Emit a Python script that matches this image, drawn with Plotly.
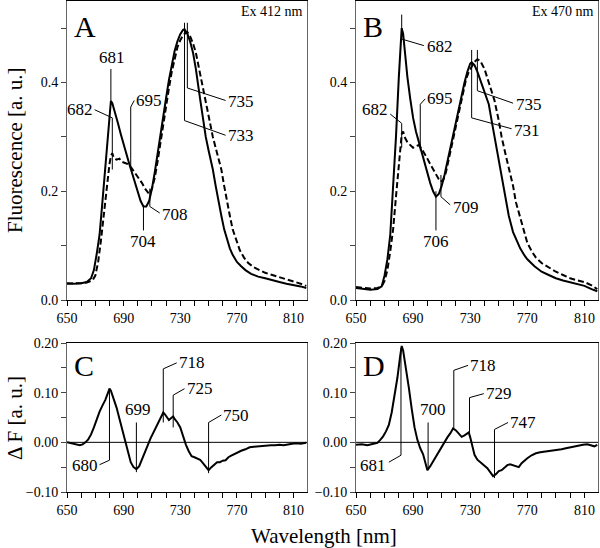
import plotly.graph_objects as go

# --- data -------------------------------------------------------------------
# Panel A, Ex 412 nm
wl_a_solid = [650, 655, 660, 664, 667, 669, 671, 673, 675, 677, 679, 680, 681, 682, 684, 686,
              688, 690, 692, 694, 696, 698, 700, 702, 704, 706, 708, 710, 712, 714, 716, 718,
              720, 722, 724, 726, 728, 730, 732, 733, 735, 737, 739, 741, 744, 746, 748, 750,
              753, 755, 757, 759, 761, 763, 765, 767, 770, 773, 776, 780, 785, 790, 795, 800,
              805, 810, 815, 819]
f_a_solid = [0.031, 0.030, 0.031, 0.033, 0.040, 0.055, 0.085, 0.12, 0.18, 0.245, 0.31, 0.345,
             0.366, 0.362, 0.345, 0.325, 0.305, 0.285, 0.268, 0.25, 0.233, 0.215, 0.198, 0.182,
             0.172, 0.172, 0.182, 0.205, 0.235, 0.27, 0.31, 0.345, 0.372, 0.405, 0.435, 0.458,
             0.476, 0.489, 0.497, 0.498, 0.49, 0.475, 0.455, 0.425, 0.37, 0.335, 0.30, 0.275,
             0.24, 0.21, 0.18, 0.155, 0.13, 0.11, 0.095, 0.083, 0.07, 0.062, 0.055, 0.048,
             0.043, 0.040, 0.036, 0.033, 0.030, 0.028, 0.025, 0.022]

wl_a_dash = [650, 655, 660, 664, 668, 670, 672, 674, 676, 678, 680, 681, 682, 683, 685, 687,
             689, 691, 693, 695, 697, 699, 701, 703, 705, 707, 708, 710, 712, 714, 716, 718,
             720, 722, 724, 726, 728, 730, 732, 734, 735, 737, 739, 741, 743, 745, 748, 750,
             753, 756, 759, 761, 763, 765, 767, 770, 772, 775, 778, 782, 786, 790, 795, 800,
             805, 810, 815, 819]
f_a_dash = [0.030, 0.030, 0.031, 0.032, 0.036, 0.045, 0.07, 0.11, 0.16, 0.21, 0.25, 0.265,
            0.27, 0.262, 0.258, 0.26, 0.254, 0.252, 0.25, 0.245, 0.238, 0.23, 0.222, 0.215,
            0.205, 0.198, 0.195, 0.205, 0.225, 0.255, 0.29, 0.325, 0.36, 0.39, 0.42, 0.445,
            0.465, 0.478, 0.487, 0.492, 0.493, 0.485, 0.472, 0.455, 0.43, 0.40, 0.365, 0.34,
            0.30, 0.27, 0.24, 0.21, 0.18, 0.155, 0.13, 0.105, 0.092, 0.078, 0.068, 0.060,
            0.055, 0.050, 0.046, 0.042, 0.038, 0.035, 0.030, 0.026]

# Panel B, Ex 470 nm
wl_b_solid = [650, 655, 660, 665, 668, 670, 672, 674, 676, 678, 680, 681, 682, 683, 684, 686,
              688, 690, 692, 694, 696, 698, 700, 702, 704, 706, 708, 710, 712, 714, 716, 718,
              720, 722, 724, 726, 728, 730, 731, 733, 735, 737, 740, 743, 745, 747, 749, 751,
              753, 755, 757, 760, 763, 765, 768, 770, 775, 780, 785, 790, 795, 800, 805, 810,
              815, 819]
f_b_solid = [0.022, 0.020, 0.019, 0.020, 0.025, 0.045, 0.075, 0.12, 0.20, 0.30, 0.41, 0.46,
             0.50, 0.49, 0.46, 0.41, 0.37, 0.335, 0.31, 0.29, 0.27, 0.25, 0.23, 0.215, 0.20,
             0.19, 0.195, 0.21, 0.23, 0.255, 0.28, 0.305, 0.33, 0.355, 0.38, 0.40, 0.42, 0.435,
             0.437, 0.432, 0.42, 0.405, 0.385, 0.36, 0.33, 0.30, 0.27, 0.244, 0.21, 0.18, 0.155,
             0.125, 0.105, 0.095, 0.082, 0.075, 0.062, 0.052, 0.046, 0.040, 0.036, 0.033, 0.030,
             0.026, 0.020, 0.016]

wl_b_dash = [650, 655, 660, 665, 668, 670, 672, 674, 676, 678, 680, 681, 682, 683, 684, 686,
             688, 690, 692, 694, 696, 698, 700, 702, 704, 706, 708, 709, 711, 713, 715, 717,
             719, 721, 723, 725, 727, 729, 731, 733, 735, 737, 740, 743, 745, 747, 750, 752,
             755, 757, 760, 762, 765, 768, 770, 773, 776, 780, 785, 790, 795, 800, 805, 810,
             815, 819]
f_b_dash = [0.024, 0.022, 0.021, 0.022, 0.025, 0.035, 0.055, 0.09, 0.13, 0.19, 0.25, 0.28,
            0.305, 0.31, 0.30, 0.29, 0.285, 0.28, 0.283, 0.285, 0.278, 0.27, 0.26, 0.25, 0.24,
            0.23, 0.222, 0.218, 0.22, 0.235, 0.26, 0.285, 0.31, 0.335, 0.36, 0.385, 0.405,
            0.42, 0.43, 0.438, 0.443, 0.44, 0.425, 0.40, 0.385, 0.367, 0.33, 0.30, 0.265,
            0.244, 0.21, 0.18, 0.15, 0.123, 0.105, 0.09, 0.078, 0.068, 0.060, 0.052, 0.046,
            0.040, 0.036, 0.033, 0.027, 0.020]

# Panel C, difference spectrum (Ex 412)
wl_c = [650, 653, 656, 659, 661, 663, 665, 667, 669, 671, 673, 675, 677, 679, 680, 681, 683,
        685, 687, 689, 691, 693, 695, 697, 699, 701, 703, 705, 707, 709, 711, 713, 715, 717,
        718, 719, 721, 722, 724, 725, 726, 728, 730, 732, 734, 736, 738, 740, 742, 744, 746,
        748, 750, 752, 754, 756, 758, 760, 762, 764, 766, 768, 770, 773, 776, 779, 782, 785,
        788, 791, 794, 797, 800, 803, 806, 809, 812, 815, 819]
df_c = [0.0, -0.002, -0.005, -0.006, -0.004, 0.0, 0.006, 0.016, 0.03, 0.048, 0.062, 0.074,
        0.085, 0.10, 0.108, 0.104, 0.088, 0.07, 0.048, 0.025, 0.003, -0.02, -0.04, -0.05,
        -0.054, -0.048, -0.035, -0.02, -0.006, 0.008, 0.02, 0.032, 0.042, 0.055, 0.06, 0.057,
        0.048, 0.045, 0.05, 0.052, 0.047, 0.04, 0.03, 0.01, -0.005, -0.018, -0.028, -0.03,
        -0.032, -0.035, -0.042, -0.05, -0.056, -0.05, -0.045, -0.04, -0.04, -0.037, -0.036,
        -0.03, -0.027, -0.024, -0.02, -0.017, -0.014, -0.01, -0.009, -0.008, -0.008, -0.007,
        -0.006, -0.006, -0.005, -0.006, -0.004, -0.003, -0.002, -0.003, -0.001]

# Panel D, difference spectrum (Ex 470)
wl_d = [650, 654, 658, 662, 665, 667, 669, 671, 673, 675, 677, 679, 681, 682, 683, 685, 687,
        689, 691, 693, 695, 697, 699, 700, 702, 704, 706, 708, 710, 712, 714, 716, 718, 720,
        722, 724, 726, 728, 729, 730, 731, 733, 735, 738, 740, 742, 744, 746, 748, 750, 752,
        754, 756, 758, 760, 762, 764, 766, 768, 770, 773, 776, 779, 782, 785, 788, 791, 794,
        797, 800, 803, 806, 809, 812, 815, 817, 819]
df_d = [-0.005, -0.004, -0.006, -0.004, -0.001, 0.005, 0.012, 0.022, 0.035, 0.06, 0.092,
        0.13, 0.175, 0.194, 0.185, 0.15, 0.11, 0.068, 0.03, 0.005, -0.012, -0.024, -0.045,
        -0.056, -0.048, -0.038, -0.028, -0.018, -0.008, 0.0, 0.01, 0.018, 0.028, 0.024,
        0.017, 0.011, 0.014, 0.018, 0.02, 0.01, -0.003, -0.025, -0.035, -0.042, -0.046,
        -0.052, -0.06, -0.068, -0.064, -0.058, -0.056, -0.05, -0.046, -0.044, -0.046,
        -0.048, -0.05, -0.042, -0.036, -0.032, -0.026, -0.022, -0.02, -0.019, -0.018,
        -0.017, -0.016, -0.014, -0.012, -0.01, -0.009, -0.007, -0.005, -0.004, -0.007,
        -0.008, -0.005]

# peak callouts: label, label pos, anchor, leader path (data coords)
callouts_a = [
    ("681", 681.5, 0.425, "center", "bottom", [(681, 0.425), (681, 0.362)]),
    ("682", 669.5, 0.35, "right", "middle", [(669.5, 0.35), (682, 0.335), (682, 0.24)]),
    ("695", 697.5, 0.367, "left", "middle", [(697.5, 0.367), (695, 0.355), (695, 0.245)]),
    ("704", 704, 0.128, "center", "top", [(704, 0.172), (704, 0.128)]),
    ("708", 715.5, 0.158, "left", "middle", [(715.5, 0.16), (708.5, 0.172), (708.5, 0.205)]),
    ("735", 762.5, 0.365, "left", "middle", [(762, 0.367), (735, 0.39), (735, 0.51)]),
    ("733", 762.5, 0.302, "left", "middle", [(762, 0.303), (733, 0.33), (733, 0.51)]),
]
callouts_b = [
    ("682", 698, 0.466, "left", "middle", [(682, 0.525), (682, 0.48), (697.5, 0.468)]),
    ("682", 673.5, 0.35, "right", "middle", [(674, 0.342), (682, 0.325), (682, 0.28)]),
    ("695", 698.5, 0.37, "left", "middle", [(698.5, 0.37), (695, 0.36), (695, 0.275)]),
    ("706", 706, 0.128, "center", "top", [(706, 0.2), (706, 0.128)]),
    ("709", 716.5, 0.17, "left", "middle", [(716, 0.175), (709.5, 0.19), (709.5, 0.23)]),
    ("735", 760.5, 0.36, "left", "middle", [(760, 0.362), (735, 0.385), (735, 0.46)]),
    ("731", 759.5, 0.312, "left", "middle", [(759, 0.315), (731, 0.335), (731, 0.46)]),
]
callouts_c = [
    ("680", 673, -0.046, "right", "middle", [(673, -0.045), (680, -0.036), (680, 0.105)]),
    ("699", 700, 0.043, "center", "bottom", [(699, 0.04), (699, -0.06)]),
    ("718", 727.5, 0.16, "left", "middle", [(727.5, 0.16), (718, 0.148), (718, 0.04)]),
    ("725", 733, 0.108, "left", "middle", [(733, 0.108), (725, 0.095), (725, 0.03)]),
    ("750", 759, 0.054, "left", "middle", [(759, 0.055), (750, 0.04), (750, -0.062)]),
]
callouts_d = [
    ("681", 672.5, -0.046, "right", "middle", [(673, -0.04), (681.5, -0.026), (681.5, 0.19)]),
    ("700", 704, 0.043, "center", "bottom", [(700.5, 0.04), (700.5, -0.056)]),
    ("718", 728.5, 0.155, "left", "middle", [(728.5, 0.155), (718.5, 0.145), (718.5, 0.028)]),
    ("729", 739.5, 0.098, "left", "middle", [(739.5, 0.098), (729.5, 0.09), (729.5, 0.015)]),
    ("747", 756.5, 0.04, "left", "middle", [(756.5, 0.04), (747, 0.026), (747, -0.072)]),
]

FONT = "Liberation Serif, Times New Roman, serif"
XR = [650, 819.5]

fig = go.Figure()

# spectra
for xs, ys, dash, ax in [
    (wl_a_solid, f_a_solid, "solid", ("x", "y")),
    (wl_a_dash, f_a_dash, "6px,3px", ("x", "y")),
    (wl_b_solid, f_b_solid, "solid", ("x2", "y2")),
    (wl_b_dash, f_b_dash, "6px,3px", ("x2", "y2")),
    (wl_c, df_c, "solid", ("x3", "y3")),
    (wl_d, df_d, "solid", ("x4", "y4")),
]:
    fig.add_trace(go.Scatter(x=xs, y=ys, mode="lines", xaxis=ax[0], yaxis=ax[1],
                             line=dict(color="black", width=2, dash=dash),
                             showlegend=False, hoverinfo="skip"))

annotations = []
shapes = []
for callouts, ax in [(callouts_a, ("x", "y")), (callouts_b, ("x2", "y2")),
                     (callouts_c, ("x3", "y3")), (callouts_d, ("x4", "y4"))]:
    for text, tx, ty, xa, ya, pts in callouts:
        annotations.append(dict(text=text, x=tx, y=ty, xref=ax[0], yref=ax[1],
                                xanchor=xa, yanchor=ya, showarrow=False,
                                font=dict(family=FONT, size=17, color="black")))
        path = "M " + " L ".join(f"{px} {py}" for px, py in pts)
        shapes.append(dict(type="path", path=path, xref=ax[0], yref=ax[1],
                           line=dict(color="black", width=1)))

# zero lines in the difference panels
for ax in [("x3", "y3"), ("x4", "y4")]:
    shapes.append(dict(type="line", x0=0, x1=1, y0=0, y1=0,
                       xref=ax[0] + " domain", yref=ax[1],
                       line=dict(color="black", width=1)))

# panel letters and excitation labels
for letter, ax in [("A", ("x", "y")), ("B", ("x2", "y2")), ("C", ("x3", "y3")), ("D", ("x4", "y4"))]:
    annotations.append(dict(text=letter, x=0.02, y=0.975, xref=ax[0] + " domain",
                            yref=ax[1] + " domain", xanchor="left", yanchor="top",
                            showarrow=False, font=dict(family=FONT, size=30, color="black")))
for label, ax in [("Ex 412 nm", ("x", "y")), ("Ex 470 nm", ("x2", "y2"))]:
    annotations.append(dict(text=label, x=0.99, y=0.995, xref=ax[0] + " domain",
                            yref=ax[1] + " domain", xanchor="right", yanchor="top",
                            showarrow=False, font=dict(family=FONT, size=14, color="black")))

# axis titles
annotations += [
    dict(text="Fluorescence [a. u.]", x=15 / 600, y=1 - 150 / 548, xref="paper", yref="paper",
         xanchor="center", yanchor="middle", textangle=-90, showarrow=False,
         font=dict(family=FONT, size=21, color="black")),
    dict(text="\u0394 F [a. u.]", x=15 / 600, y=1 - 418 / 548, xref="paper", yref="paper",
         xanchor="center", yanchor="middle", textangle=-90, showarrow=False,
         font=dict(family=FONT, size=21, color="black")),
    dict(text="Wavelength [nm]", x=324 / 600, y=1 - 536 / 548, xref="paper", yref="paper",
         xanchor="center", yanchor="middle", showarrow=False,
         font=dict(family=FONT, size=21, color="black")),
]


def xaxis_style(domain, anchor):
    return dict(domain=domain, anchor=anchor, range=XR, tick0=650, dtick=40,
                ticks="outside", ticklen=5, tickcolor="black",
                minor=dict(dtick=10, ticks="outside", ticklen=5, tickcolor="black"),
                showline=True, linecolor="black", linewidth=1, mirror=True,
                showgrid=False, zeroline=False, automargin=False,
                tickfont=dict(family=FONT, size=14, color="black"))


def yaxis_style(domain, anchor, rng, dtick, fmt):
    return dict(domain=domain, anchor=anchor, range=rng, dtick=dtick, tickformat=fmt,
                ticks="outside", ticklen=5, tickcolor="#444",
                minor=dict(dtick=dtick / 2, ticks="outside", ticklen=5, tickcolor="#444"),
                showline=True, linecolor="#666", linewidth=1, mirror=True,
                showgrid=False, zeroline=False, automargin=False,
                tickfont=dict(family=FONT, size=14, color="black"))


top_y = [1 - 300 / 548, 1 - 1 / 548]
bot_y = [1 - 492 / 548, 1 - 343 / 548]
left_x = [67 / 600, 307 / 600]
right_x = [356 / 600, 598 / 600]

fig.update_layout(
    template="none",
    width=600, height=548,
    margin=dict(l=0, r=0, t=0, b=0, pad=0),
    paper_bgcolor="white", plot_bgcolor="white",
    showlegend=False,
    xaxis=xaxis_style(left_x, "y"),
    yaxis=yaxis_style(top_y, "x", [0, 0.55], 0.2, ".1f"),
    xaxis2=xaxis_style(right_x, "y2"),
    yaxis2=yaxis_style(top_y, "x2", [0, 0.55], 0.2, ".1f"),
    xaxis3=xaxis_style(left_x, "y3"),
    yaxis3=yaxis_style(bot_y, "x3", [-0.1, 0.2], 0.1, ".2f"),
    xaxis4=xaxis_style(right_x, "y4"),
    yaxis4=yaxis_style(bot_y, "x4", [-0.1, 0.2], 0.1, ".2f"),
    annotations=annotations,
    shapes=shapes,
)

# page body margin would shift the fixed-size figure; no modebar
fig.write_html("out.html", config={"displayModeBar": False},
               post_script="document.body.style.margin='0';")
